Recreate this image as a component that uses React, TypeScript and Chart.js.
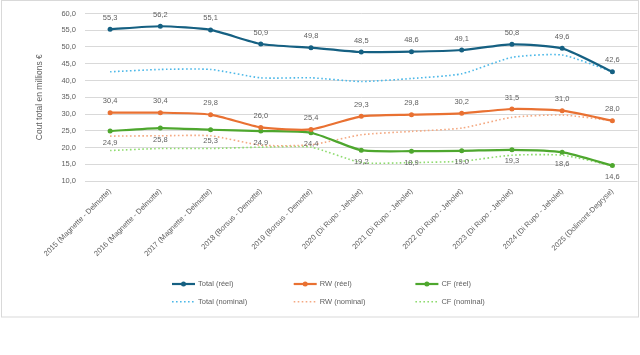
import React, { useEffect, useRef } from "react";
import { Chart, registerables } from "chart.js";

Chart.register(...registerables);

const categories = [
  "2015 (Magnette - Delmotte)",
  "2016 (Magnette - Delmotte)",
  "2017 (Magnette - Delmotte)",
  "2018 (Borsus - Demotte)",
  "2019 (Borsus - Demotte)",
  "2020 (Di Rupo - Jeholet)",
  "2021 (Di Rupo - Jeholet)",
  "2022 (Di Rupo - Jeholet)",
  "2023 (Di Rupo - Jeholet)",
  "2024 (Di Rupo - Jeholet)",
  "2025 (Dolimont-Degryse)",
];

const totalReel = [55.3, 56.2, 55.1, 50.9, 49.8, 48.5, 48.6, 49.1, 50.8, 49.6, 42.6];
const rwReel = [30.4, 30.4, 29.8, 26.0, 25.4, 29.3, 29.8, 30.2, 31.5, 31.0, 28.0];
const cfReel = [24.9, 25.8, 25.3, 24.9, 24.4, 19.2, 18.9, 19.0, 19.3, 18.6, 14.6];
const totalNominal = [42.6, 43.3, 43.3, 40.8, 40.8, 39.7, 40.6, 42.0, 46.9, 47.6, 42.6];
const rwNominal = [23.4, 23.5, 23.5, 20.7, 20.8, 23.8, 24.8, 25.8, 29.0, 29.7, 28.0];
const cfNominal = [19.1, 19.7, 19.7, 20.1, 20.1, 15.5, 15.5, 15.9, 17.7, 17.7, 14.6];

const seriesLabels = [
  "Total (réel)",
  "RW (réel)",
  "CF (réel)",
  "Total (nominal)",
  "RW (nominal)",
  "CF (nominal)",
];

const yTitle = "Cout total en millions €";
const yMin = 10;
const yMax = 60;
const yStep = 5;

const FONT = '"Liberation Sans", Arial, sans-serif';
const TEXT = "#5f5f5f";

const fmt = (v: number) => v.toFixed(1).replace(".", ",");

export default function App() {
  const ref = useRef<HTMLCanvasElement | null>(null);

  useEffect(() => {
    const canvas = ref.current;
    if (!canvas) return;
    document.body.style.margin = "0";

    const colors = ["#156082", "#E97132", "#4EA72E", "#4CB8E8", "#F4A982", "#8EDB6E"];
    const values = [totalReel, rwReel, cfReel, totalNominal, rwNominal, cfNominal];
    // label placement: -1 above, 1 below, 0 none
    const labelDir = [-1, -1, 1, 0, 0, 0];

    const datasets = values.map((d, i) => {
      const real = i < 3;
      return {
        label: seriesLabels[i],
        data: d,
        borderColor: colors[i],
        backgroundColor: colors[i],
        borderWidth: real ? 2.2 : 1.6,
        borderDash: real ? [] : [1.6, 2.4],
        pointRadius: real ? 2.5 : 0,
        pointHoverRadius: real ? 2.5 : 0,
        pointBorderWidth: 0,
        tension: 0.2,
        order: real ? 0 : 1,
      };
    });

    const framePlugin = {
      id: "frame",
      beforeDraw(chart: any) {
        const ctx = chart.ctx;
        ctx.save();
        ctx.fillStyle = "#ffffff";
        ctx.fillRect(0, 0, chart.width, chart.height);
        ctx.strokeStyle = "#d9d9d9";
        ctx.lineWidth = 1;
        ctx.strokeRect(1.5, 0.5, 637, 316.5);
        ctx.restore();
      },
    };

    const labelPlugin = {
      id: "valueLabels",
      afterDatasetsDraw(chart: any) {
        const ctx = chart.ctx;
        ctx.save();
        ctx.font = `7.5px ${FONT}`;
        ctx.fillStyle = TEXT;
        ctx.textAlign = "center";
        ctx.textBaseline = "middle";
        chart.data.datasets.forEach((ds: any, i: number) => {
          const dir = labelDir[i];
          if (!dir) return;
          const meta = chart.getDatasetMeta(i);
          meta.data.forEach((pt: any, j: number) => {
            ctx.fillText(fmt(ds.data[j]), pt.x, pt.y + dir * 11.5);
          });
        });
        ctx.restore();
      },
    };

    const legendPlugin = {
      id: "customLegend",
      afterDraw(chart: any) {
        const ctx = chart.ctx;
        ctx.save();
        chart.data.datasets.forEach((ds: any, i: number) => {
          const col = i % 3;
          const row = Math.floor(i / 3);
          const x0 = 172 + col * 121.7;
          const y = 284 + row * 17.7;
          ctx.strokeStyle = ds.borderColor;
          ctx.lineWidth = ds.borderWidth;
          ctx.setLineDash(ds.borderDash || []);
          ctx.beginPath();
          ctx.moveTo(x0, y);
          ctx.lineTo(x0 + 23, y);
          ctx.stroke();
          ctx.setLineDash([]);
          if (ds.pointRadius > 0) {
            ctx.fillStyle = ds.borderColor;
            ctx.beginPath();
            ctx.arc(x0 + 11.5, y, 2.5, 0, Math.PI * 2);
            ctx.fill();
          }
          ctx.fillStyle = TEXT;
          ctx.font = `7.5px ${FONT}`;
          ctx.textAlign = "left";
          ctx.textBaseline = "middle";
          ctx.fillText(ds.label, x0 + 26, y);
        });
        ctx.restore();
      },
    };

    const chart = new Chart(canvas, {
      type: "line",
      data: { labels: categories, datasets: datasets as any },
      options: {
        responsive: false,
        animation: false,
        devicePixelRatio: 1,
        layout: { padding: { left: 0, right: 1, top: 11, bottom: 0 } },
        plugins: {
          legend: { display: false },
          tooltip: { enabled: false },
        },
        scales: {
          x: {
            offset: true,
            grid: { display: false, drawTicks: false },
            border: { display: false },
            ticks: {
              autoSkip: false,
              maxRotation: 45,
              minRotation: 45,
              padding: 6,
              color: TEXT,
              font: { size: 7.5, family: FONT },
            },
            afterFit(scale: any) {
              scale.height = 174;
            },
          },
          y: {
            min: yMin,
            max: yMax,
            grid: { color: "#d9d9d9", lineWidth: 1, drawTicks: false },
            border: { display: false },
            ticks: {
              stepSize: yStep,
              padding: 9,
              color: TEXT,
              font: { size: 7.5, family: FONT },
              callback: (v: any) => fmt(Number(v)),
            },
            title: {
              display: true,
              text: yTitle,
              color: TEXT,
              font: { size: 8.5, family: FONT },
              padding: { top: 35, bottom: 0 },
            },
            afterFit(scale: any) {
              scale.width = 85;
            },
          },
        },
      },
      plugins: [framePlugin, labelPlugin, legendPlugin],
    });

    return () => chart.destroy();
  }, []);

  return (
    <div style={{ position: "absolute", left: 0, top: 0, width: 640, height: 355, background: "#fff" }}>
      <canvas ref={ref} width={640} height={355} style={{ display: "block", width: 640, height: 355 }} />
    </div>
  );
}
